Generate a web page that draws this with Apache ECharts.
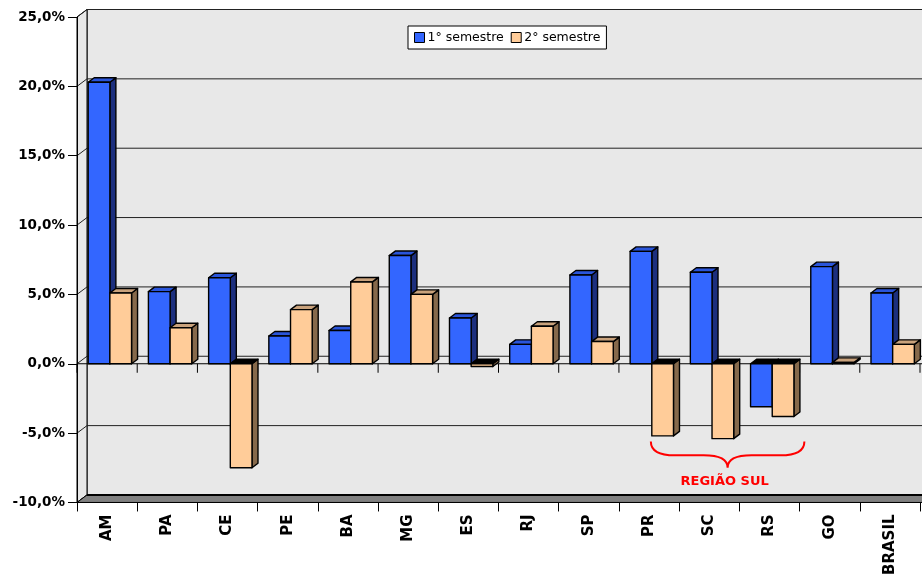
<!DOCTYPE html>
<html>
<head>
<meta charset="utf-8">
<script src="https://cdn.jsdelivr.net/npm/echarts@6/dist/echarts.min.js"></script>
<style>
html,body{margin:0;padding:0;background:#fff;}
#chart{width:922px;height:578px;}
</style>
</head>
<body>
<div id="chart"></div>
<script>
// ---- data ----
const categories = ['AM','PA','CE','PE','BA','MG','ES','RJ','SP','PR','SC','RS','GO','BRASIL'];
const sem1 = [20.3, 5.2, 6.2, 2.0, 2.4, 7.8, 3.3, 1.4, 6.4, 8.1, 6.6, -3.1, 7.0, 5.1];
const sem2 = [5.1, 2.6, -7.5, 3.9, 5.9, 5.0, -0.2, 2.7, 1.6, -5.2, -5.4, -3.8, 0.1, 1.4];
const yTicks = [-10, -5, 0, 5, 10, 15, 20, 25];
const seriesNames = ['1° semestre', '2° semestre'];
const regionLabel = 'REGIÃO SUL';
const regionCategories = ['PR', 'RS'];

// ---- styles ----
const FONT = '"DejaVu Sans", Verdana, sans-serif';
const WALL_DX = 10, WALL_DY = -7.5;
const BAR_DX = 6, BAR_DY = -4.5;
const palette = [
  {front:'#3366FF', top:'#2A55DA', side:'#1C2F7E'},
  {front:'#FFCC99', top:'#C9A27C', side:'#86694B'}
];

const chart = echarts.init(document.getElementById('chart'), null, {renderer:'canvas'});

function bgRender(params, api) {
  const bw = api.size([1, 0])[0];
  const n = categories.length;
  const xL = api.coord([0, 0])[0] - bw / 2;
  const xR = api.coord([n - 1, 0])[0] + bw / 2;
  const yTop = api.coord([0, yTicks[yTicks.length - 1]])[1];
  const yBot = api.coord([0, yTicks[0]])[1];
  const y0 = api.coord([0, 0])[1];
  const children = [];
  children.push({type:'rect', shape:{x:xL + WALL_DX, y:yTop + WALL_DY, width:xR - xL + 40, height:yBot - yTop},
    style:{fill:'#E8E8E8', stroke:'#000', lineWidth:1}});
  children.push({type:'polygon', shape:{points:[[xL, yTop],[xL + WALL_DX, yTop + WALL_DY],[xL + WALL_DX, yBot + WALL_DY],[xL, yBot]]},
    style:{fill:'#E8E8E8', stroke:'#000', lineWidth:1}});
  yTicks.forEach(t => {
    const y = api.coord([0, t])[1];
    children.push({type:'line', shape:{x1:xL, y1:y, x2:xL + WALL_DX, y2:y + WALL_DY}, style:{stroke:'#222', lineWidth:1}});
    children.push({type:'line', shape:{x1:xL + WALL_DX, y1:y + WALL_DY, x2:xR + 40, y2:y + WALL_DY}, style:{stroke:'#222', lineWidth:1}});
  });
  // floor
  children.push({type:'polygon', shape:{points:[[xL, yBot],[xL + WALL_DX, yBot + WALL_DY],[xR + 40, yBot + WALL_DY],[xR + 40, yBot]]},
    style:{fill:'#808080', stroke:'#000', lineWidth:1}});
  children.push({type:'line', shape:{x1:xL + WALL_DX, y1:yBot + WALL_DY, x2:xR + 40, y2:yBot + WALL_DY}, style:{stroke:'#000', lineWidth:2}});
  // front zero line with ticks
  children.push({type:'line', shape:{x1:xL, y1:y0, x2:xR + 40, y2:y0}, style:{stroke:'#000', lineWidth:1}});
  for (let i = 0; i <= n; i++) {
    const x = xL + i * bw;
    children.push({type:'line', shape:{x1:x, y1:y0, x2:x, y2:y0 + 9}, style:{stroke:'#000', lineWidth:1}});
  }
  return {type:'group', children};
}

function makeBar(k) {
  const col = palette[k];
  return function (params, api) {
    const idx = api.value(0), v = api.value(1);
    const bw = api.size([1, 0])[0];
    const w = bw * 0.36;
    const c = api.coord([idx, v]);
    const z = api.coord([idx, 0]);
    const x0 = c[0] - 0.314 * bw + k * w, x1 = x0 + w;
    const yv = c[1], y0 = z[1];
    const st = {stroke:'#000', lineWidth:1.4, lineJoin:'round'};
    const ch = [];
    if (v >= 0) {
      ch.push({type:'polygon', shape:{points:[[x1, yv],[x1 + BAR_DX, yv + BAR_DY],[x1 + BAR_DX, y0 + BAR_DY],[x1, y0]]}, style:Object.assign({fill:col.side}, st)});
      ch.push({type:'polygon', shape:{points:[[x0, yv],[x0 + BAR_DX, yv + BAR_DY],[x1 + BAR_DX, yv + BAR_DY],[x1, yv]]}, style:Object.assign({fill:col.top}, st)});
      ch.push({type:'rect', shape:{x:x0, y:yv, width:w, height:y0 - yv}, style:Object.assign({fill:col.front}, st)});
    } else {
      ch.push({type:'polygon', shape:{points:[[x1, y0],[x1 + BAR_DX, y0 + BAR_DY],[x1 + BAR_DX, yv + BAR_DY],[x1, yv]]}, style:Object.assign({fill:col.side}, st)});
      ch.push({type:'polygon', shape:{points:[[x0, y0],[x0 + BAR_DX, y0 + BAR_DY],[x1 + BAR_DX, y0 + BAR_DY],[x1, y0]]}, style:Object.assign({fill:'#000'}, st)});
      ch.push({type:'rect', shape:{x:x0, y:y0, width:w, height:yv - y0}, style:Object.assign({fill:col.front}, st)});
    }
    return {type:'group', children:ch};
  };
}

function braceRender(params, api) {
  const bw = api.size([1, 0])[0];
  const i0 = categories.indexOf(regionCategories[0]);
  const i1 = categories.indexOf(regionCategories[1]);
  const xl = api.coord([i0, 0])[0] + 0.03 * bw;
  const xr = api.coord([i1, 0])[0] + 0.58 * bw;
  const xc = (xl + xr) / 2;
  const yt = api.coord([0, -5.6])[1];
  const ym = api.coord([0, -6.6])[1];
  const ytip = api.coord([0, -7.5])[1];
  const ytxt = api.coord([0, -8.5])[1];
  const r = 24;
  const d = `M${xl} ${yt} Q${xl} ${ym} ${xl + r} ${ym} L${xc - r} ${ym} Q${xc} ${ym} ${xc} ${ytip} Q${xc} ${ym} ${xc + r} ${ym} L${xr - r} ${ym} Q${xr} ${ym} ${xr} ${yt}`;
  return {type:'group', children:[
    {type:'path', shape:{pathData:d}, style:{fill:'none', stroke:'#FF0000', lineWidth:2}},
    {type:'text', style:{text:regionLabel, x:xc - 3, y:ytxt, fill:'#FF0000', font:'bold 13px ' + FONT, align:'center', verticalAlign:'middle'}}
  ]};
}

const option = {
  animation:false,
  backgroundColor:'#fff',
  grid:{left:77, right:2, top:17, bottom:74, containLabel:false},
  legend:{
    data:seriesNames, left:408, top:26,
    backgroundColor:'#fff', borderColor:'#000', borderWidth:1, borderRadius:0,
    padding:[5, 6], itemWidth:10, itemHeight:10, itemGap:7, icon:'rect',
    itemStyle:{borderColor:'#000', borderWidth:1},
    textStyle:{fontFamily:FONT, fontSize:12.5, color:'#000', padding:[0, 0, 0, -2]}
  },
  xAxis:{
    type:'category', data:categories, position:'bottom', z:3,
    axisLine:{onZero:false, lineStyle:{color:'#000', width:1}},
    axisTick:{show:true, length:9, alignWithLabel:false, lineStyle:{color:'#000'}},
    axisLabel:{rotate:90, fontWeight:'bold', fontSize:15, fontFamily:FONT, color:'#000', margin:12, interval:0},
    splitLine:{show:false}
  },
  yAxis:{
    type:'value', min:-10, max:25, interval:5, z:3,
    axisLine:{show:true, lineStyle:{color:'#000', width:1}},
    axisTick:{show:true, length:9, lineStyle:{color:'#000'}},
    splitLine:{show:false},
    axisLabel:{fontWeight:'bold', fontSize:13.5, fontFamily:FONT, color:'#000', margin:12,
      formatter:v => v.toFixed(1).replace('.', ',') + '%'}
  },
  series:[
    {type:'custom', name:'bg', z:1, silent:true, renderItem:bgRender, data:[[0, 0]], encode:{x:0, y:1}},
    {type:'custom', name:seriesNames[0], z:2, renderItem:makeBar(0), itemStyle:{color:palette[0].front},
      data:categories.map((c, i) => [i, sem1[i]]), encode:{x:0, y:1}},
    {type:'custom', name:seriesNames[1], z:2, renderItem:makeBar(1), itemStyle:{color:palette[1].front},
      data:categories.map((c, i) => [i, sem2[i]]), encode:{x:0, y:1}},
    {type:'custom', name:'brace', z:4, silent:true, renderItem:braceRender, data:[[0, 0]], encode:{x:0, y:1}}
  ]
};
chart.setOption(option);
</script>
</body>
</html>
